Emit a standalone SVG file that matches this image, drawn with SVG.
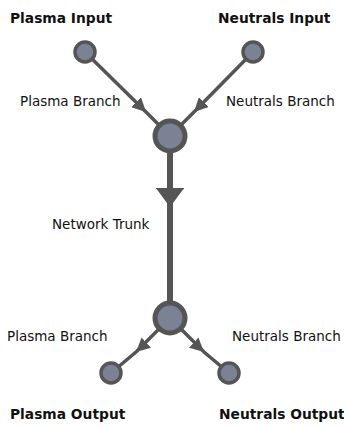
<svg xmlns="http://www.w3.org/2000/svg" width="344" height="428" viewBox="0 0 344 428">
<defs>
<style>
.node{fill:#7a8294;stroke:#555555;stroke-width:3.5}
.hub{fill:#7a8294;stroke:#555555;stroke-width:5}
.edge{fill:none;stroke:#555555;stroke-width:3.5}
.trunk{fill:none;stroke:#555555;stroke-width:6}
.title{font-family:"DejaVu Sans","Liberation Sans",sans-serif;font-weight:bold;font-size:13.8px;fill:#111}
.lbl{font-family:"DejaVu Sans","Liberation Sans",sans-serif;font-size:13.5px;fill:#111}
</style>
<marker id="ah" viewBox="0 0 10 10" refX="10" refY="5" markerWidth="4" markerHeight="4" orient="auto" markerUnits="strokeWidth">
<path d="M0,0 L10,5 L0,10 z" fill="#555555"/>
</marker>
<marker id="ahT" viewBox="0 0 10 10" refX="10" refY="5" markerWidth="3.2" markerHeight="4.8" orient="auto" markerUnits="strokeWidth" preserveAspectRatio="none">
<path d="M0,0 L10,5 L0,10 z" fill="#555555"/>
</marker>
</defs>
<rect width="344" height="428" fill="#ffffff"/>
<g id="connectors">
<path class="edge" d="M85,52 L146,112 L170,136" marker-mid="url(#ah)"/>
<path class="edge" d="M253,52 L194,112 L170,136" marker-mid="url(#ah)"/>
<path class="trunk" d="M170,136 L170,207 L170,318" marker-mid="url(#ahT)"/>
<path class="edge" d="M170,318 L136,352 L111,373" marker-mid="url(#ah)"/>
<path class="edge" d="M170,318 L204,352 L229,373" marker-mid="url(#ah)"/>
<text class="lbl" x="20" y="106">Plasma Branch</text>
<text class="lbl" x="226" y="106">Neutrals Branch</text>
<text class="lbl" x="52" y="229">Network Trunk</text>
<text class="lbl" x="7" y="341">Plasma Branch</text>
<text class="lbl" x="232" y="341">Neutrals Branch</text>
</g>
<g id="plasma-input">
<circle class="node" cx="85" cy="52" r="10"/>
<text class="title" x="10" y="23">Plasma Input</text>
</g>
<g id="neutrals-input">
<circle class="node" cx="253" cy="52" r="10"/>
<text class="title" x="218" y="23">Neutrals Input</text>
</g>
<g id="hub-in">
<circle class="hub" cx="170" cy="136" r="15"/>
</g>
<g id="hub-out">
<circle class="hub" cx="170" cy="318" r="15"/>
</g>
<g id="plasma-output">
<circle class="node" cx="111" cy="373" r="10"/>
<text class="title" x="10" y="419">Plasma Output</text>
</g>
<g id="neutrals-output">
<circle class="node" cx="229" cy="373" r="10"/>
<text class="title" x="219" y="419">Neutrals Output</text>
</g>
</svg>
